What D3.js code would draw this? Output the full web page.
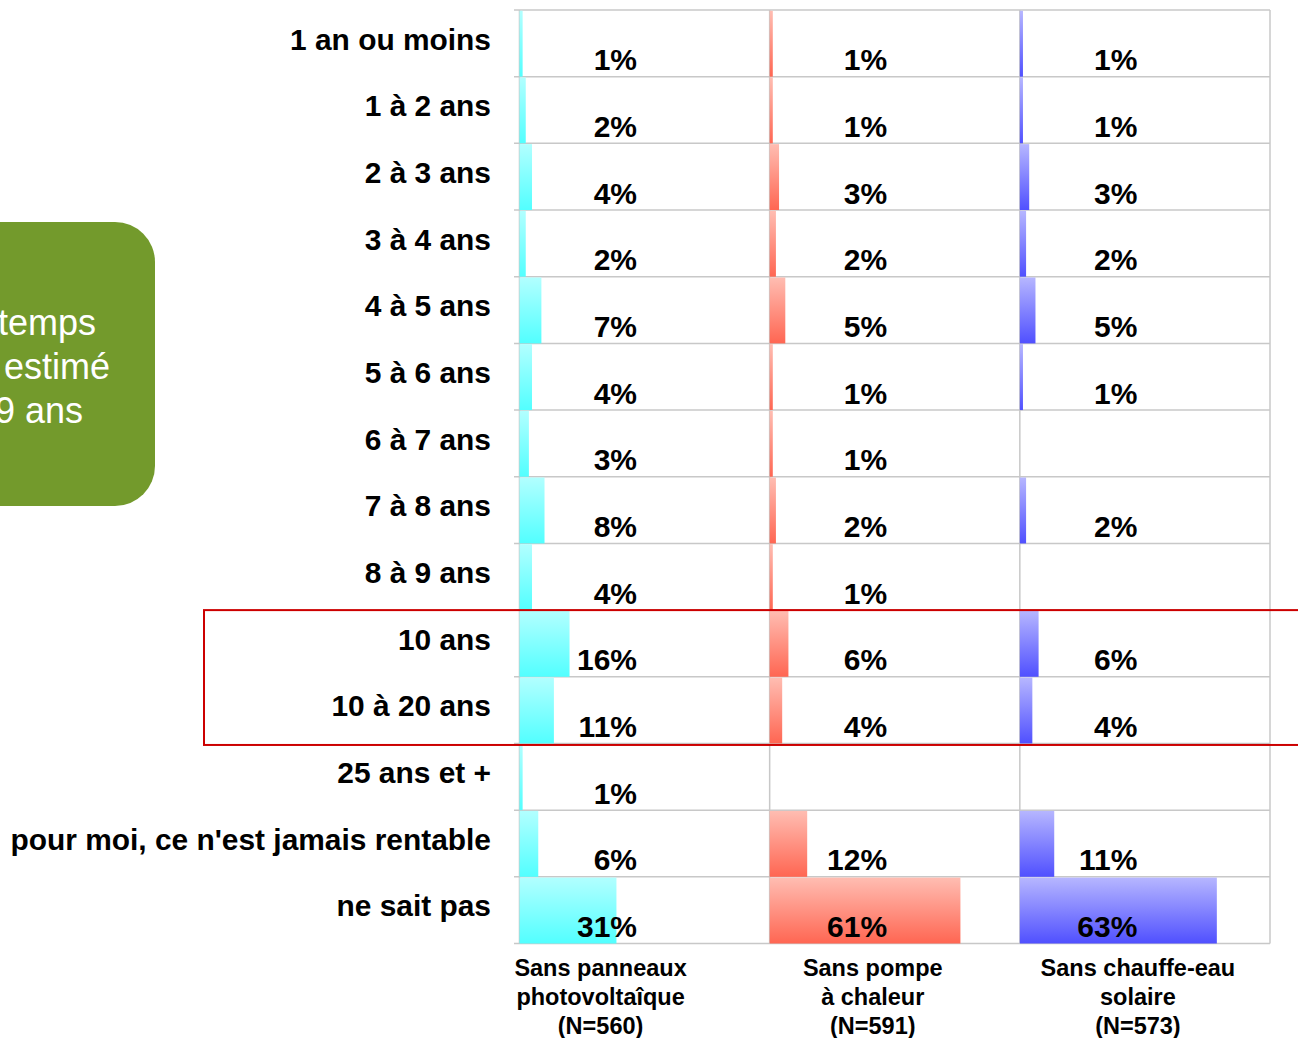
<!DOCTYPE html>
<html>
<head>
<meta charset="utf-8">
<script src="https://cdn.jsdelivr.net/npm/d3@7"></script>
<style>
  body { margin: 0; background: #fff; }
  text { font-family: "Liberation Sans", Arial, sans-serif; }
</style>
</head>
<body>
<script>
// categories (rows) and the three series
const categories = [
  "1 an ou moins", "1 à 2 ans", "2 à 3 ans", "3 à 4 ans", "4 à 5 ans",
  "5 à 6 ans", "6 à 7 ans", "7 à 8 ans", "8 à 9 ans", "10 ans",
  "10 à 20 ans", "25 ans et +", "pour moi, ce n'est jamais rentable", "ne sait pas"
];
const seriesNames = ["pv", "pac", "cesi"];
const seriesLabels = [
  ["Sans panneaux", "photovoltaîque", "(N=560)"],
  ["Sans pompe", "à chaleur", "(N=591)"],
  ["Sans chauffe-eau", "solaire", "(N=573)"]
];
const pvValues = [1, 2, 4, 2, 7, 4, 3, 8, 4, 16, 11, 1, 6, 31];
const pacValues = [1, 1, 3, 2, 5, 1, 1, 2, 1, 6, 4, null, 12, 61];
const cesiValues = [1, 1, 3, 2, 5, 1, null, 2, null, 6, 4, null, 11, 63];
const boxLines = ["temps", "estimé", "9 ans"];

const width = 1298, height = 1038;
const values = [pvValues, pacValues, cesiValues];
const gradColors = [
  ["#b2ffff", "#52ffff"],
  ["#ffbdb2", "#ff6652"],
  ["#b6b6ff", "#5050ff"]
];

const svg = d3.select("body").append("svg")
  .attr("width", width)
  .attr("height", height);

const defs = svg.append("defs");
gradColors.forEach((c, i) => {
  const g = defs.append("linearGradient")
    .attr("id", "grad" + i)
    .attr("x1", 0).attr("y1", 0).attr("x2", 0).attr("y2", 1);
  g.append("stop").attr("offset", "0%").attr("stop-color", c[0]);
  g.append("stop").attr("offset", "100%").attr("stop-color", c[1]);
});

// scales
const y = d3.scaleBand().domain(categories).range([10, 943.5]);
const panel = d3.scaleBand().domain(seriesNames).range([519.5, 1270]);
const x = d3.scaleLinear().domain([0, 80]).range([0, panel.bandwidth()]);

// green note box (clipped on the left)
svg.append("rect")
  .attr("x", -45).attr("y", 222)
  .attr("width", 200).attr("height", 284)
  .attr("rx", 40).attr("ry", 40)
  .attr("fill", "#739a2c");

svg.append("g")
  .selectAll("text")
  .data(boxLines)
  .join("text")
  .attr("x", (d, i) => [96, 110, 83][i])
  .attr("y", (d, i) => 335 + i * 44)
  .attr("text-anchor", "end")
  .attr("fill", "#fff")
  .style("font-size", "36px")
  .text((d) => d);

// gridlines
const grid = svg.append("g").attr("stroke", "#c8c8c8").attr("stroke-width", 1.5);
grid.selectAll("line.h")
  .data(d3.range(categories.length + 1))
  .join("line")
  .attr("class", "h")
  .attr("x1", 514).attr("x2", 1270)
  .attr("y1", (i) => 10 + i * y.step())
  .attr("y2", (i) => 10 + i * y.step());
grid.selectAll("line.v")
  .data(seriesNames.concat(["end"]))
  .join("line")
  .attr("class", "v")
  .attr("x1", (d) => d === "end" ? 1270 : panel(d))
  .attr("x2", (d) => d === "end" ? 1270 : panel(d))
  .attr("y1", 10).attr("y2", 943.5);

// bars
seriesNames.forEach((s, si) => {
  const rows = categories.map((c, i) => ({ c, v: values[si][i] }))
    .filter((d) => d.v != null);
  const g = svg.append("g");
  g.selectAll("rect")
    .data(rows)
    .join("rect")
    .attr("x", panel(s))
    .attr("y", (d) => y(d.c) + 0.75)
    .attr("width", (d) => x(d.v))
    .attr("height", y.bandwidth() - 0.75)
    .attr("fill", "url(#grad" + si + ")");
  g.selectAll("text")
    .data(rows)
    .join("text")
    .attr("x", panel(s) + 117.5)
    .attr("y", (d) => y(d.c) + y.bandwidth() - 6.5)
    .attr("text-anchor", "end")
    .style("font-size", "30px")
    .style("font-weight", "bold")
    .text((d) => d.v + "%");
});

// category labels
svg.append("g")
  .selectAll("text")
  .data(categories)
  .join("text")
  .attr("x", 491)
  .attr("y", (d) => y(d) + 39.5)
  .attr("text-anchor", "end")
  .style("font-size", "29.9px")
  .style("font-weight", "bold")
  .text((d) => d);

// series labels under the panels
const labelShift = [-44, -22, -7];
seriesNames.forEach((s, si) => {
  svg.append("text")
    .attr("text-anchor", "middle")
    .style("font-size", "23.5px")
    .style("font-weight", "bold")
    .selectAll("tspan")
    .data(seriesLabels[si])
    .join("tspan")
    .attr("x", panel(s) + panel.bandwidth() / 2 + labelShift[si])
    .attr("y", (d, i) => 976 + i * 29)
    .text((d) => d);
});

// red highlight frame around "10 ans" and "10 à 20 ans"
svg.append("rect")
  .attr("x", 204)
  .attr("y", y("10 ans"))
  .attr("width", 1120)
  .attr("height", y("10 à 20 ans") + y.step() - y("10 ans") + 1.5)
  .attr("fill", "none")
  .attr("stroke", "#cc0000")
  .attr("stroke-width", 2);
</script>
</body>
</html>
